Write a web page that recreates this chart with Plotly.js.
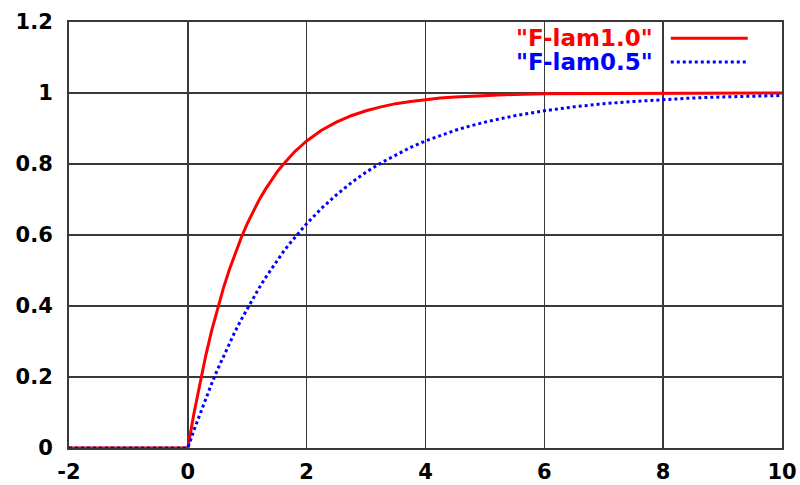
<!DOCTYPE html>
<html>
<head>
<meta charset="utf-8">
<script src="https://cdn.plot.ly/plotly-3.0.1.min.js"></script>
<style>
  html, body { margin: 0; padding: 0; background: #fff; }
  #chart { width: 800px; height: 485px; }
</style>
</head>
<body>
<div id="chart"></div>
<script>
// Exponential CDF curves for two rates
const xs = [-2, -1, 0,
  0.1, 0.2, 0.3, 0.4, 0.5, 0.6, 0.7, 0.8, 0.9, 1.0,
  1.1, 1.2, 1.3, 1.4, 1.5, 1.6, 1.7, 1.8, 1.9, 2.0,
  2.25, 2.5, 2.75, 3, 3.25, 3.5, 3.75, 4, 4.25, 4.5, 4.75, 5,
  5.5, 6, 6.5, 7, 7.5, 8, 8.5, 9, 9.5, 10];
const lam10 = [0, 0, 0,
  0.095, 0.181, 0.259, 0.330, 0.393, 0.451, 0.503, 0.551, 0.593, 0.632,
  0.667, 0.699, 0.727, 0.753, 0.777, 0.798, 0.817, 0.835, 0.850, 0.865,
  0.895, 0.918, 0.936, 0.950, 0.961, 0.970, 0.976, 0.982, 0.986, 0.989, 0.991, 0.993,
  0.996, 0.998, 0.998, 0.999, 0.999, 1.0, 1.0, 1.0, 1.0, 1.0];
const lam05 = [0, 0, 0,
  0.049, 0.095, 0.139, 0.181, 0.221, 0.259, 0.295, 0.330, 0.362, 0.393,
  0.423, 0.451, 0.478, 0.503, 0.528, 0.551, 0.573, 0.593, 0.613, 0.632,
  0.675, 0.713, 0.747, 0.777, 0.803, 0.826, 0.847, 0.865, 0.881, 0.895, 0.907, 0.918,
  0.936, 0.950, 0.961, 0.970, 0.976, 0.982, 0.986, 0.989, 0.991, 0.993];
const seriesNames = ['"F-lam1.0"', '"F-lam0.5"'];
const xTicks = [-2, 0, 2, 4, 6, 8, 10];
const yTicks = [0, 0.2, 0.4, 0.6, 0.8, 1, 1.2];
const yTickText = ['0', '0.2', '0.4', '0.6', '0.8', '1', '1.2'];

const RED = '#ff0000';
const BLUE = '#0000ff';
const FONT = { family: 'DejaVu Sans, Verdana, sans-serif', size: 21, color: '#000', weight: 'bold' };
const KEY_FONT = Object.assign({}, FONT, { size: 23 });

const traces = [
  { x: xs, y: lam10, mode: 'lines', name: seriesNames[0], line: { color: RED, width: 3 } },
  { x: xs, y: lam05, mode: 'lines', name: seriesNames[1], line: { color: BLUE, width: 3, dash: 'dot' } }
];

const axisCommon = {
  showgrid: true, gridcolor: '#3a3a3a', gridwidth: 1.5,
  showline: true, linecolor: '#3a3a3a', linewidth: 2, mirror: true,
  zeroline: false, ticks: '', tickfont: FONT, fixedrange: true
};

const layout = {
  width: 800, height: 485,
  margin: { l: 69, r: 18, t: 22, b: 37 },
  paper_bgcolor: '#fff', plot_bgcolor: '#fff',
  showlegend: false,
  xaxis: Object.assign({}, axisCommon, {
    range: [-2, 10], tickvals: xTicks, ticktext: xTicks.map(String), ticklabelstandoff: 4
  }),
  yaxis: Object.assign({}, axisCommon, {
    range: [0, 1.2], tickvals: yTicks, ticktext: yTickText, ticklabelstandoff: 10
  }),
  annotations: [
    { xref: 'paper', yref: 'paper', x: 0.822, y: 0.962, xanchor: 'right', yanchor: 'middle',
      text: seriesNames[0], showarrow: false, font: Object.assign({}, KEY_FONT, { color: RED }) },
    { xref: 'paper', yref: 'paper', x: 0.822, y: 0.906, xanchor: 'right', yanchor: 'middle',
      text: seriesNames[1], showarrow: false, font: Object.assign({}, KEY_FONT, { color: BLUE }) }
  ],
  shapes: [
    { type: 'line', xref: 'paper', yref: 'paper', x0: 0.844, x1: 0.952, y0: 0.962, y1: 0.962,
      line: { color: RED, width: 3 } },
    { type: 'line', xref: 'paper', yref: 'paper', x0: 0.844, x1: 0.952, y0: 0.906, y1: 0.906,
      line: { color: BLUE, width: 3, dash: 'dot' } }
  ]
};

Plotly.newPlot('chart', traces, layout, { staticPlot: true, displayModeBar: false });
</script>
</body>
</html>
